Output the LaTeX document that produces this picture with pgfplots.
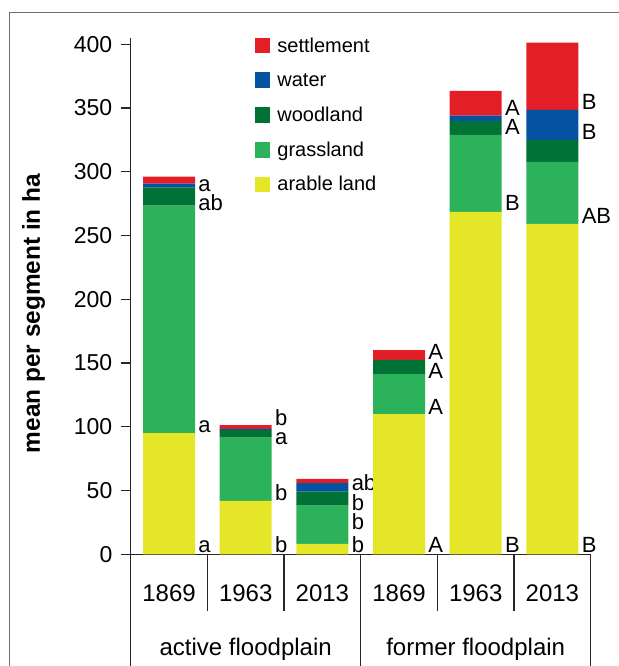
\documentclass[border=0pt]{standalone}
\usepackage{pgfplots}
\pgfplotsset{compat=1.18}
\usepackage{pgfplotstable}
\usepackage{fontspec}
\setmainfont{Liberation Sans}
\definecolor{cSet}{RGB}{228,30,38}
\definecolor{cWat}{RGB}{4,82,160}
\definecolor{cWood}{RGB}{0,114,54}
\definecolor{cGras}{RGB}{44,178,90}
\definecolor{cAra}{RGB}{230,230,40}
\pgfplotstableread{
x arable grass wood water settle
0 95.1 178.3 14.1 3.2 5.5
1 42.0 49.5 5.8 1.0 3.1
2 8.1 30.0 11.0 6.8 3.2
3 110.0 31.4 11.0 0.0 7.8
4 268.5 60.4 10.9 4.2 19.4
5 259.1 48.7 17.1 23.6 52.8
}\datatable
\tikzset{lab/.style={anchor=base west, inner sep=0pt, xshift=1.5pt, font=\fontsize{11}{13}\selectfont}}
\begin{document}
\begin{tikzpicture}
\useasboundingbox (-65.35pt,-55.85pt) rectangle (244.15pt,277.15pt);
\draw[line width=0.75pt, black!57] (-60.6pt,-60pt) -- (-60.6pt,270.9pt) -- (250pt,270.9pt);
\begin{axis}[
  at={(0,0)}, anchor=south west,
  scale only axis, width=230pt, height=258.19pt,
  xmin=-0.5, xmax=5.5, ymin=0, ymax=405,
  ybar stacked, bar width=26pt,
  axis x line*=bottom, axis y line*=left,
  axis line style={line width=0.7pt, black!85},
  xtick=\empty,
  ytick={0,50,...,400},
  tick align=outside, major tick length=5pt,
  ytick style={line width=0.7pt, black!85},
  yticklabel style={font=\fontsize{11.5}{13}\selectfont, inner sep=0pt, xshift=-4pt},
  /pgf/number format/assume math mode=true,
  clip=false,
  reverse legend,
  legend cell align=left,
  legend style={draw=none, fill=none, at={(axis description cs:0.2687,1)}, anchor=north west,
    yshift=0.6pt, inner sep=0pt, row sep=9.2pt, column sep=3.5pt,
    font=\fontsize{10}{12}\selectfont,
    nodes={inner sep=0pt, text height=7.5pt, text depth=0pt}},
  legend image code/.code={\fill[#1] (0pt,-4.4pt) rectangle (7.85pt,3.45pt);},
]
\addplot[fill=cAra, draw=none] table[x=x,y=arable]{\datatable};
\addplot[fill=cGras, draw=none] table[x=x,y=grass]{\datatable};
\addplot[fill=cWood, draw=none] table[x=x,y=wood]{\datatable};
\addplot[fill=cWat, draw=none] table[x=x,y=water]{\datatable};
\addplot[fill=cSet, draw=none] table[x=x,y=settle]{\datatable};
\legend{arable land, grassland, woodland, water, settlement}
% significance letters
\node[lab] at (axis cs:0.339,284.4) {a};
\node[lab] at (axis cs:0.339,270.0) {ab};
\node[lab] at (axis cs:0.339,95.7) {a};
\node[lab] at (axis cs:0.339,1.6) {a};
\node[lab] at (axis cs:1.339,101.4) {b};
\node[lab] at (axis cs:1.339,86.3) {a};
\node[lab] at (axis cs:1.339,42.0) {b};
\node[lab] at (axis cs:1.339,1.6) {b};
\node[lab] at (axis cs:2.339,49.9) {ab};
\node[lab] at (axis cs:2.339,34.7) {b};
\node[lab] at (axis cs:2.339,19.1) {b};
\node[lab] at (axis cs:2.339,1.6) {b};
\node[lab] at (axis cs:3.339,152.9) {A};
\node[lab] at (axis cs:3.339,138.0) {A};
\node[lab] at (axis cs:3.339,109.3) {A};
\node[lab] at (axis cs:3.339,1.3) {A};
\node[lab] at (axis cs:4.339,343.8) {A};
\node[lab] at (axis cs:4.339,329.4) {A};
\node[lab] at (axis cs:4.339,269.5) {B};
\node[lab] at (axis cs:4.339,1.3) {B};
\node[lab] at (axis cs:5.339,348.5) {B};
\node[lab] at (axis cs:5.339,325.5) {B};
\node[lab] at (axis cs:5.339,259.1) {AB};
\node[lab] at (axis cs:5.339,1.3) {B};
\end{axis}
% separators below the x axis
\foreach \k in {1,2,4,5} {\draw[line width=0.7pt, black!85] (\k*38.3333pt,0) -- (\k*38.3333pt,-28.35pt);}
\foreach \k in {0,3,6} {\draw[line width=0.7pt, black!85] (\k*38.3333pt,0) -- (\k*38.3333pt,-60pt);}
% year labels
\foreach \yr [count=\i from 0] in {1869,1963,2013,1869,1963,2013} {
  \node[anchor=base, inner sep=0pt, font=\fontsize{12}{14}\selectfont] at ({(\i+0.5)*38.3333pt},-23.7pt) {\yr};
}
\node[anchor=base, inner sep=0pt, font=\fontsize{12}{14}\selectfont] at (57.5pt,-50.35pt) {active floodplain};
\node[anchor=base, inner sep=0pt, font=\fontsize{12}{14}\selectfont] at (172.5pt,-50.35pt) {former floodplain};
% y label
\node[rotate=90, anchor=base, inner sep=0pt, font=\bfseries\fontsize{12.2}{14}\selectfont] at (-45.35pt,120.4pt) {mean per segment in ha};
\end{tikzpicture}
\end{document}
